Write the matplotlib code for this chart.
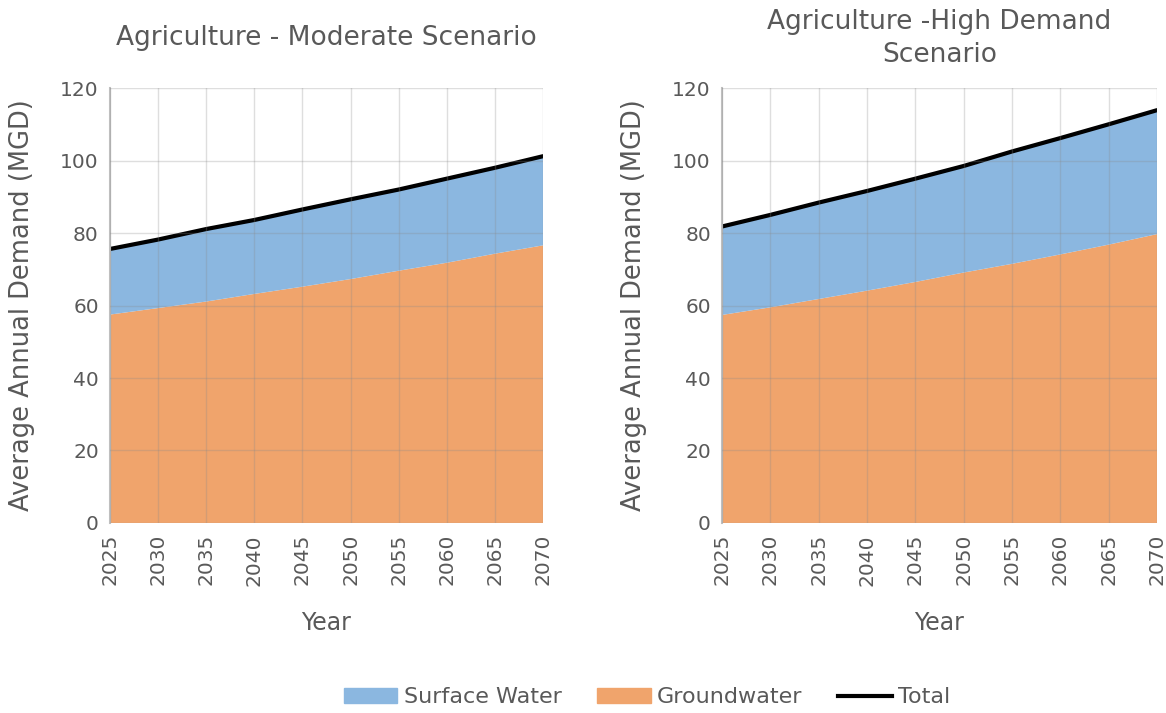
import numpy as np
import matplotlib.pyplot as plt
from matplotlib.patches import Patch
from matplotlib.lines import Line2D

plt.rcParams['font.family'] = ['DejaVu Sans']

years = [2025, 2030, 2035, 2040, 2045, 2050, 2055, 2060, 2065, 2070]

# moderate scenario
mod_ground = [57.5, 59.3, 61.1, 63.2, 65.2, 67.3, 69.6, 71.8, 74.3, 76.6]
mod_total = [75.6, 78.2, 81.1, 83.6, 86.5, 89.3, 92.0, 95.0, 98.0, 101.2]

# high demand scenario
high_ground = [57.4, 59.5, 61.8, 64.1, 66.5, 69.1, 71.5, 74.1, 76.8, 79.7]
high_total = [81.8, 85.0, 88.4, 91.6, 95.0, 98.5, 102.5, 106.2, 110.0, 113.9]

titles = ["Agriculture - Moderate Scenario", "Agriculture -High Demand\nScenario"]

blue = '#8bb7e0'
orange = '#f0a46c'
txt = '#595959'

fig = plt.figure(figsize=(11.66, 7.13), dpi=100)
ax1 = fig.add_axes([0.0943, 0.2665, 0.3714, 0.610])
ax2 = fig.add_axes([0.6192, 0.2665, 0.3731, 0.610])

for ax, gw, tot, title in [(ax1, mod_ground, mod_total, titles[0]),
                           (ax2, high_ground, high_total, titles[1])]:
    gw = np.array(gw)
    tot = np.array(tot)
    sw = tot - gw
    ax.stackplot(years, gw, sw, colors=[orange, blue], linewidth=0)
    ax.plot(years, tot, color='black', lw=3, solid_capstyle='round')
    ax.set_xlim(2025, 2070)
    ax.set_ylim(0, 120)
    ax.set_xticks(years)
    ax.set_xticklabels([str(y) for y in years], rotation=90)
    ax.set_yticks(range(0, 121, 20))
    ax.grid(True, color='#8a8a8a', alpha=0.28, lw=1.0)
    ax.set_axisbelow(False)
    for s in ['top', 'right', 'bottom']:
        ax.spines[s].set_visible(False)
    ax.spines['left'].set_color('#bfbfbf')
    ax.spines['left'].set_linewidth(1.5)
    ax.tick_params(length=0, labelsize=14.5, labelcolor=txt, pad=8)
    ax.set_xlabel("Year", fontsize=17, color=txt, labelpad=18)
    ax.set_ylabel("Average Annual Demand (MGD)", fontsize=18.5, color=txt, labelpad=18)
    # заголовок по центру над графиком
    ax.text(0.5, 1.115, title, transform=ax.transAxes, ha='center', va='center',
            fontsize=19, color=txt, linespacing=1.35)

handles = [Patch(color=blue, label='Surface Water'),
           Patch(color=orange, label='Groundwater'),
           Line2D([0], [0], color='black', lw=3, label='Total')]
fig.legend(handles=handles, loc='center', bbox_to_anchor=(0.555, 0.022), ncol=3,
           frameon=False, fontsize=16, labelcolor=txt, handlelength=2.4,
           columnspacing=1.6, handletextpad=0.3)

fig.savefig('out.png', dpi=100)
